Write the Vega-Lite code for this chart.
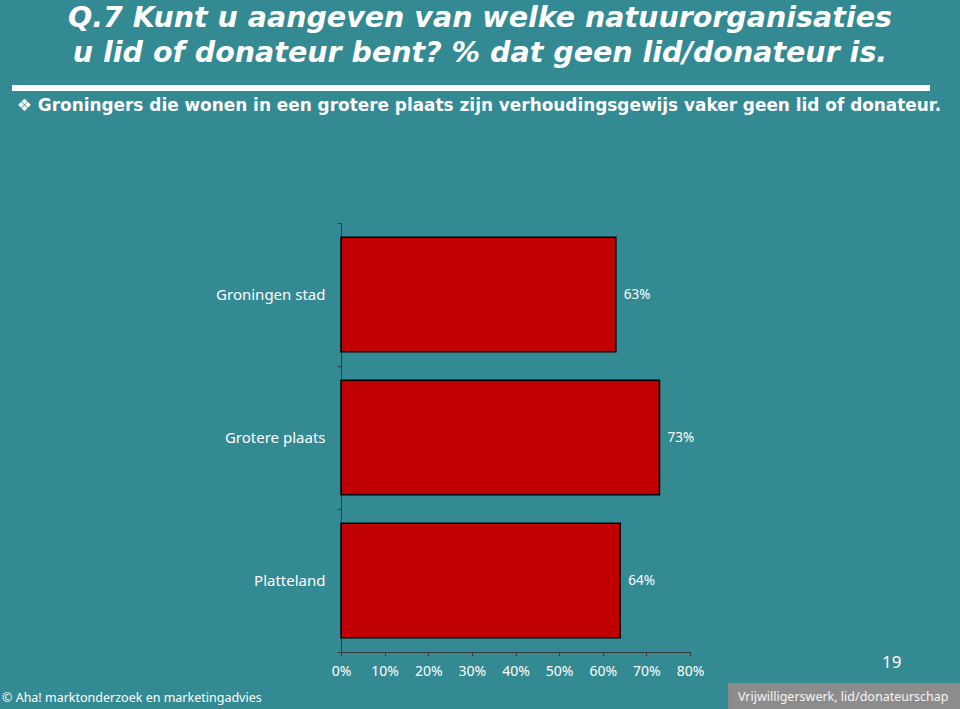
{
  "$schema": "https://vega.github.io/schema/vega-lite/v6.json",
  "width": 918,
  "height": 564,
  "autosize": {"type": "none"},
  "padding": {"left": 12, "top": 88, "right": 30, "bottom": 57},
  "background": "#338A93",
  "config": {
    "view": {"stroke": null},
    "font": "Noto Sans"
  },
  "title": {
    "text": ["Q.7 Kunt u aangeven van welke natuurorganisaties", "u lid of donateur bent? % dat geen lid/donateur is."],
    "font": "DejaVu Sans",
    "fontSize": 28.5,
    "fontWeight": "bold",
    "fontStyle": "italic",
    "color": "#FFFFFF",
    "lineHeight": 35,
    "anchor": "middle",
    "frame": "group",
    "dx": 9,
    "offset": 14
  },
  "resolve": {"scale": {"x": "independent", "y": "independent"}},
  "layer": [
    {
      "data": {"values": [{
        "subtitle": "❖ Groningers die wonen in een grotere plaats zijn verhoudingsgewijs vaker geen lid of donateur.",
        "footer": "© Aha! marktonderzoek en marketingadvies",
        "section": "Vrijwilligerswerk, lid/donateurschap",
        "page": "19"
      }]},
      "layer": [
        {
          "mark": {"type": "rule", "color": "#FFFFFF", "strokeWidth": 6},
          "encoding": {
            "y": {"datum": 1, "type": "quantitative", "scale": {"domain": [0, 1], "nice": false, "zero": false}, "axis": null}
          }
        },
        {
          "mark": {"type": "text", "color": "#FFFFFF", "font": "DejaVu Sans", "fontWeight": "bold", "fontSize": 16.9, "align": "center", "baseline": "alphabetic"},
          "encoding": {
            "x": {"datum": 0.5087, "type": "quantitative", "scale": {"domain": [0, 1], "nice": false, "zero": false}, "axis": null},
            "y": {"datum": 0.959, "type": "quantitative"},
            "text": {"field": "subtitle"}
          }
        },
        {
          "mark": {"type": "text", "color": "#FFFFFF", "fontSize": 12.5, "align": "left", "baseline": "alphabetic"},
          "encoding": {
            "x": {"datum": -0.0109, "type": "quantitative"},
            "y": {"datum": -0.0887, "type": "quantitative"},
            "text": {"field": "footer"}
          }
        },
        {
          "mark": {"type": "rect", "color": "#8C8C8C"},
          "encoding": {
            "x": {"datum": 0.78, "type": "quantitative"},
            "x2": {"datum": 1.0327},
            "y": {"datum": -0.055, "type": "quantitative"},
            "y2": {"datum": -0.1011}
          }
        },
        {
          "mark": {"type": "text", "color": "#F5F5F5", "fontSize": 12.5, "align": "left", "baseline": "alphabetic"},
          "encoding": {
            "x": {"datum": 0.7908, "type": "quantitative"},
            "y": {"datum": -0.0864, "type": "quantitative"},
            "text": {"field": "section"}
          }
        },
        {
          "mark": {"type": "text", "color": "#FFFFFF", "fontSize": 17, "align": "left", "baseline": "alphabetic"},
          "encoding": {
            "x": {"datum": 0.9477, "type": "quantitative"},
            "y": {"datum": -0.0278, "type": "quantitative"},
            "text": {"field": "page"}
          }
        }
      ]
    },
    {
      "data": {"values": [
        {"area": "Groningen stad", "pct": 0.63},
        {"area": "Grotere plaats", "pct": 0.73},
        {"area": "Platteland", "pct": 0.64}
      ]},
      "encoding": {
        "y": {
          "field": "area",
          "type": "nominal",
          "sort": null,
          "scale": {"range": [135, 564], "paddingInner": 0, "paddingOuter": 0},
          "axis": {
            "orient": "left",
            "title": null,
            "offset": -329,
            "domainColor": "#3A3A3A",
            "tickColor": "#3A3A3A",
            "tickSize": 4,
            "tickBand": "extent",
            "labelColor": "#FFFFFF",
            "labelFontSize": 15,
            "labelFont": "Noto Sans",
            "labelPadding": 12
          }
        },
        "x": {
          "field": "pct",
          "type": "quantitative",
          "scale": {"domain": [0, 0.8], "range": [329, 678], "nice": false},
          "axis": {
            "orient": "bottom",
            "title": null,
            "values": [0, 0.1, 0.2, 0.3, 0.4, 0.5, 0.6, 0.7, 0.8],
            "format": ".0%",
            "grid": false,
            "labelFlush": false,
            "domainColor": "#3A3A3A",
            "tickColor": "#3A3A3A",
            "tickSize": 4,
            "labelColor": "#FFFFFF",
            "labelFontSize": 14,
            "labelFont": "Noto Sans",
            "labelPadding": 8
          }
        }
      },
      "layer": [
        {
          "mark": {"type": "bar", "color": "#C00000", "stroke": "#000000", "strokeWidth": 1.5, "height": {"band": 0.8}}
        },
        {
          "mark": {"type": "text", "align": "left", "baseline": "middle", "dx": 8, "color": "#FFFFFF", "fontSize": 13.5, "font": "Noto Sans"},
          "encoding": {
            "text": {"field": "pct", "type": "quantitative", "format": ".0%"}
          }
        }
      ]
    }
  ]
}
